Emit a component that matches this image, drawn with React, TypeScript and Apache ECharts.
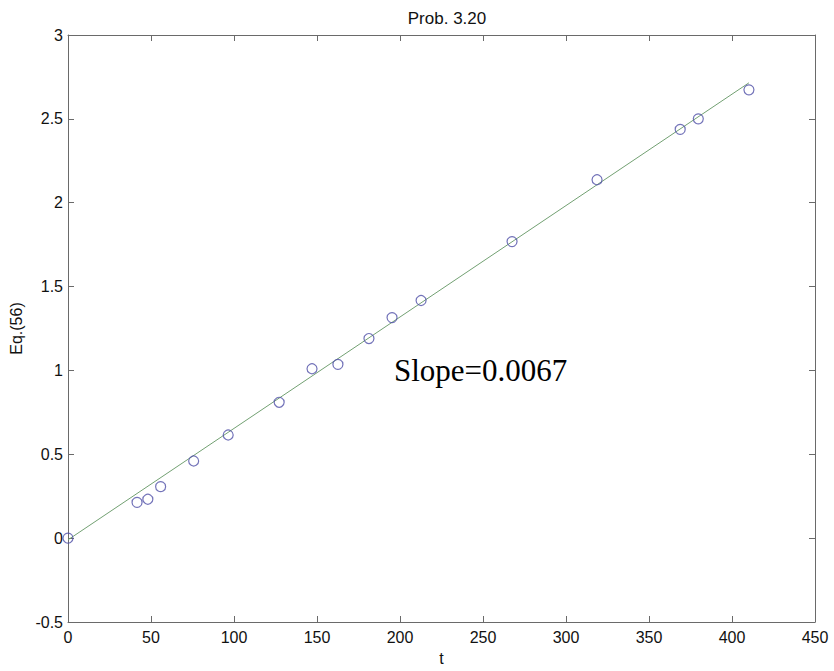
import React, { useEffect, useRef } from "react";
import * as echarts from "echarts";

const tValues = [0, 41.6, 48.1, 55.8, 75.7, 96.5, 127.2, 147.0, 162.6, 181.3, 195.2, 212.7, 267.5, 318.7, 368.8, 379.7, 410.2];
const eqValues = [0, 0.213, 0.232, 0.307, 0.46, 0.615, 0.81, 1.01, 1.036, 1.19, 1.315, 1.417, 1.768, 2.137, 2.437, 2.5, 2.673];
const fitT = [0, 410.2];
const fitEq = [-0.01, 2.715];
const titleText = "Prob. 3.20";
const xName = "t";
const yName = "Eq.(56)";
const annotation = "Slope=0.0067";

export default function App() {
  const ref = useRef<HTMLDivElement>(null);
  useEffect(() => {
    document.body.style.margin = "0";
    const chart = echarts.init(ref.current!, null, { renderer: "svg" });
    const axisLine = { show: true, onZero: false, lineStyle: { color: "#6a6a6a", width: 1 } };
    const tick = { show: true, inside: true, length: 6, lineStyle: { color: "#6a6a6a" } };
    const labelFont = { fontFamily: "Liberation Sans, Arial, sans-serif", fontSize: 16, color: "#111" };
    chart.setOption({
      animation: false,
      backgroundColor: "#fff",
      title: {
        text: titleText,
        left: 442,
        top: 5,
        textAlign: "center",
        textStyle: { fontFamily: "Liberation Sans, Arial, sans-serif", fontSize: 17, fontWeight: "normal", color: "#111" },
      },
      grid: { left: 68, right: 19, top: 35, bottom: 46, containLabel: false },
      xAxis: [
        {
          type: "value", min: 0, max: 450, interval: 50, position: "bottom",
          axisLine, axisTick: tick, splitLine: { show: false },
          axisLabel: { ...labelFont, margin: 7 },
          name: xName, nameLocation: "middle", nameGap: 28,
          nameTextStyle: { ...labelFont },
        },
        {
          type: "value", min: 0, max: 450, interval: 50, position: "top",
          axisLine, axisTick: tick, splitLine: { show: false }, axisLabel: { show: false },
        },
      ],
      yAxis: [
        {
          type: "value", min: -0.5, max: 3, interval: 0.5, position: "left",
          axisLine, axisTick: tick, splitLine: { show: false },
          axisLabel: { ...labelFont, margin: 5 },
          name: yName, nameLocation: "middle", nameGap: 42, nameRotate: 90,
          nameTextStyle: { ...labelFont },
        },
        {
          type: "value", min: -0.5, max: 3, interval: 0.5, position: "right",
          axisLine, axisTick: tick, splitLine: { show: false }, axisLabel: { show: false },
        },
      ],
      series: [
        {
          type: "line",
          data: fitT.map((t, i) => [t, fitEq[i]]),
          showSymbol: false,
          symbol: "none",
          lineStyle: { color: "#72a072", width: 1 },
          silent: true,
          z: 1,
        },
        {
          type: "scatter",
          data: tValues.map((t, i) => [t, eqValues[i]]),
          symbol: "circle",
          symbolSize: 10,
          itemStyle: { color: "rgba(0,0,0,0)", borderColor: "#5050a8", borderWidth: 1.2 },
          z: 2,
        },
      ],
      graphic: [
        {
          type: "text",
          left: 394,
          top: 355,
          style: {
            text: annotation,
            fontFamily: "Liberation Serif, Times New Roman, serif",
            fontSize: 31,
            fill: "#000",
          },
        },
      ],
    });
    return () => chart.dispose();
  }, []);
  return <div ref={ref} style={{ width: 834, height: 671 }} />;
}
